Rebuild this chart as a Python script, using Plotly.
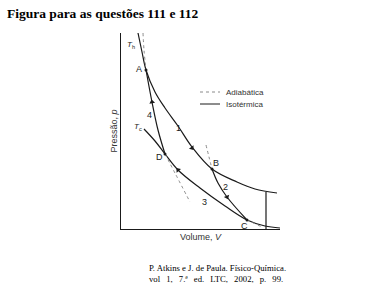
import plotly.graph_objects as go

# Schematic Carnot cycle (arbitrary units: V to the right, p upward)
hot_V = [17, 21, 25, 34, 44, 57, 71, 91, 116, 134, 156]
hot_p = [196, 177, 159, 137, 121, 103, 82, 60, 47, 40, 36]
cold_V = [23, 34, 44, 57, 79, 104, 126, 144, 159]
cold_p = [100, 88, 75, 59, 41, 23, 9, 3, 1]
adDA_V = [25, 31, 37, 44]
adDA_p = [159, 127, 99, 75]
adDA_top_V = [22, 23, 25]
adDA_top_p = [196, 179, 159]
adDA_bot_V = [44, 55, 69]
adDA_bot_p = [75, 54, 27]
adBC_V = [91, 97, 106, 126]
adBC_p = [60, 46, 32, 9]
adBC_top_V = [85, 88, 91]
adBC_top_p = [84, 72, 60]
adBC_bot_V = [126, 141]
adBC_bot_p = [9, 2]
wall_V = [145, 145]
wall_p = [0, 37]
pts_lbl = ["A", "B", "C", "D"]
pts_V = [25, 91, 126, 44]
pts_p = [159, 60, 9, 75]
arrow_V = [71, 106, 57, 31]
arrow_p = [81, 32, 59, 127]
arrow_ang = [142, 157, 319, 349]

INK = "#1a1a1a"
DOT = "#8a8a8a"

# plot area in page pixels
L, R, T, B = 121, 280, 33, 229

fig = go.Figure()

def line(x, y, dotted=False):
    fig.add_trace(go.Scatter(
        x=x, y=y, mode="lines", line_shape="spline",
        line=dict(color=DOT if dotted else INK, width=1 if dotted else 1.2,
                  dash="dot" if dotted else "solid"),
        hoverinfo="skip", showlegend=False))

line(hot_V, hot_p)
line(cold_V, cold_p)
line(adDA_V, adDA_p)
line(adDA_top_V, adDA_top_p, True)
line(adDA_bot_V, adDA_bot_p, True)
line(adBC_V, adBC_p)
line(adBC_top_V, adBC_top_p, True)
line(adBC_bot_V, adBC_bot_p, True)
fig.add_trace(go.Scatter(x=wall_V, y=wall_p, mode="lines",
                         line=dict(color=INK, width=1.2), showlegend=False))

fig.add_trace(go.Scatter(x=pts_V, y=pts_p, mode="markers",
                         marker=dict(color=INK, size=3), showlegend=False))
fig.add_trace(go.Scatter(x=arrow_V, y=arrow_p, mode="markers",
                         marker=dict(color=INK, size=5, symbol="triangle-up",
                                     angle=arrow_ang), showlegend=False))

# legend samples
fig.add_trace(go.Scatter(x=[79, 99], y=[137, 137], mode="lines",
                         line=dict(color=DOT, width=1, dash="dot"), showlegend=False))
fig.add_trace(go.Scatter(x=[79, 99], y=[125, 125], mode="lines",
                         line=dict(color=INK, width=1), showlegend=False))

SANS = "Liberation Sans, Arial, sans-serif"
SERIF = "Liberation Serif, Times New Roman, serif"

def txt(x, y, s, size=9, xanchor="center", ref="data", font=SANS, color=INK):
    if ref == "data":
        fig.add_annotation(x=x, y=y, xref="x", yref="y", text=s, showarrow=False,
                           xanchor=xanchor, yanchor="middle",
                           font=dict(family=font, size=size, color=color))
    else:
        fig.add_annotation(x=(x - L) / (R - L), y=(B - y) / (B - T),
                           xref="paper", yref="paper",
                           text=s, showarrow=False, xanchor=xanchor, yanchor="middle",
                           font=dict(family=font, size=size, color=color))

txt(103, 137, "Adiabática", 8, "left", color="#333")
txt(103, 125, "Isotérmica", 8, "left", color="#333")

# point labels
txt(18, 160, "A", 9)
txt(95, 66, "B", 9)
txt(123, 3, "C", 9)
txt(38, 72, "D", 9)
txt(57, 101, "1", 9)
txt(104, 42, "2", 9)
txt(83, 27, "3", 9)
txt(28, 114, "4", 9)
txt(10, 184, "<i>T</i><sub>h</sub>", 8)
txt(17, 102, "<i>T</i><sub>c</sub>", 8)

NB = "\u00a0"
cite2 = (NB * 2 + "\u2009").join(["vol", "1,", "7.ª", "ed.", "LTC,", "2002,", "p.", "99."])

# outer texts (page pixel coords)
txt(5, 13, "<b>Figura para as questões 111 e 112</b>", 13.5, "left", ref="paper", font=SERIF, color="#000")
txt(147, 268, "P. Atkins e J. de Paula. Físico-Química.", 8.7, "left", ref="paper", font=SERIF, color="#000")
txt(147, 279, cite2, 8.7, "left", ref="paper", font=SERIF, color="#000")

fig.update_layout(
    width=389, height=284,
    margin=dict(l=L, r=389 - R, t=T, b=284 - B),
    paper_bgcolor="white", plot_bgcolor="white",
    xaxis=dict(range=[0, 159], showgrid=False, zeroline=False, showticklabels=False,
               ticks="", showline=True, linecolor=INK, linewidth=1.2,
               title=dict(text="Volume, <i>V</i>", font=dict(family=SANS, size=9, color="#333"),
                          standoff=4)),
    yaxis=dict(range=[0, 196], showgrid=False, zeroline=False, showticklabels=False,
               ticks="", showline=True, linecolor=INK, linewidth=1.2,
               title=dict(text="Pressão, <i>p</i>", font=dict(family=SANS, size=9, color="#333"),
                          standoff=0)),
)

fig.write_html("out.html")
